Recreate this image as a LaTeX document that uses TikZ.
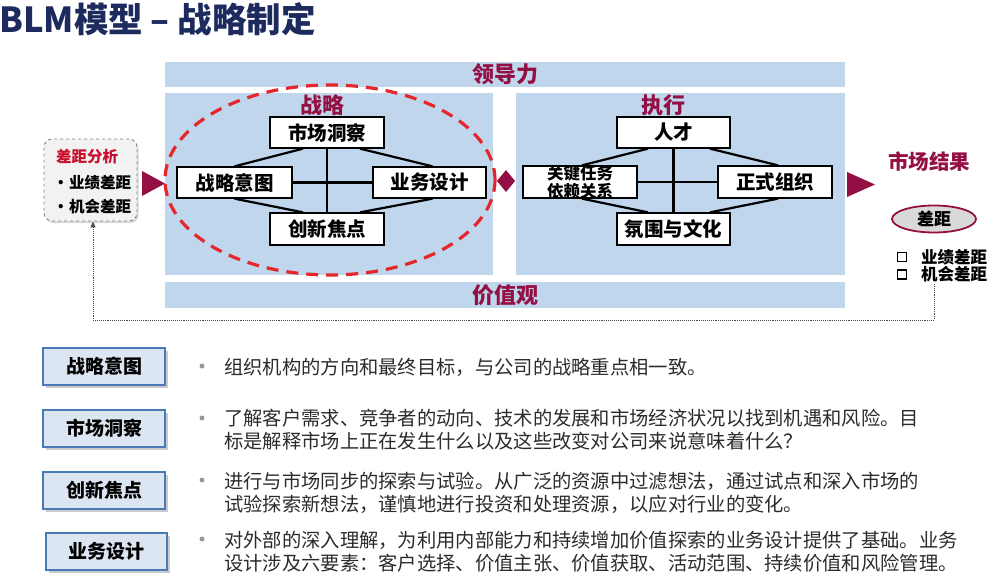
\documentclass[tikz,border=0pt]{standalone}
\usepackage{fontspec}
\setmainfont{Noto Sans CJK SC}
\usetikzlibrary{shapes.geometric,shadows,calc,arrows.meta}
\definecolor{band}{HTML}{BFD6EC}
\definecolor{maroon}{HTML}{941044}
\definecolor{navy}{HTML}{1C2A5E}
\definecolor{redd}{HTML}{E5262B}
\definecolor{lblfill}{HTML}{DCE6F2}
\definecolor{lbldraw}{HTML}{4A7AB5}
\definecolor{txt}{HTML}{2B2B2B}
\definecolor{gapred}{HTML}{C8102E}
\tikzset{
  bandbox/.style={fill=band, draw=none, inner sep=0},
  wbox/.style={draw=black, fill=white, line width=1.3pt, inner sep=0, font=\fontsize{19.5}{21}\selectfont\bfseries},
  link/.style={line width=2.2pt, black},
  hdr/.style={text=maroon, font=\fontsize{22}{24}\selectfont\bfseries, inner sep=0},
  lbl/.style={fill=lblfill, draw=lbldraw, line width=1.2pt, inner sep=0,
    minimum width=122pt, minimum height=37pt, font=\fontsize{19}{21}\selectfont\bfseries,
    drop shadow={shadow xshift=2.5pt, shadow yshift=-2.5pt, opacity=0.35, fill=black!60}},
  desc/.style={anchor=west, inner sep=0, align=left, text=txt, font=\fontsize{19.3}{23}\selectfont},
  bul/.style={circle, inner sep=0, minimum size=5pt, fill=black!40},
  gtxt/.style={anchor=west, inner sep=0, font=\fontsize{15.5}{17}\selectfont\bfseries},
  chk/.style={draw=black, line width=1.9pt, minimum size=9pt, inner sep=0},
  fb/.style={densely dotted, line width=0.9pt, black!70},
}
\begin{document}
\begin{tikzpicture}[x=1pt,y=-1pt]
\useasboundingbox (0,0) rectangle (996,573);
% title
\node[anchor=west, inner sep=0, text=navy, font=\fontsize{34.5}{36}\selectfont\bfseries] (title) at (-1,19) {BLM模型 – 战略制定};
% bands and panels
\node[bandbox, minimum width=680pt, minimum height=25pt] (lead) at (505,74.5) {};
\node[hdr] (leadt) at (505,74.5) {领导力};
\node[bandbox, minimum width=328pt, minimum height=182pt] (lp) at (329,184) {};
\node[bandbox, minimum width=329pt, minimum height=182pt] (rp) at (680.5,184) {};
\node[bandbox, minimum width=680pt, minimum height=26pt] (val) at (505,295) {};
\node[hdr] (valt) at (505,295) {价值观};
\node[hdr] (stt) at (322,105) {战略};
\node[hdr] (ext) at (663,105) {执行};
% strategy boxes
\node[wbox, minimum width=114pt, minimum height=31pt] (mi) at (327,132.5) {市场洞察};
\node[wbox, minimum width=115pt, minimum height=31pt] (si) at (234.5,182.5) {战略意图};
\node[wbox, minimum width=113pt, minimum height=31pt] (bd) at (429.5,182.5) {业务设计};
\node[wbox, minimum width=114pt, minimum height=32pt] (inn) at (327,229) {创新焦点};
\draw[link] (mi.south) -- (inn.north);
\draw[link] (si.east) -- (bd.west);
\draw[link] ($(mi.south)+(-24,0)$) -- (si.north);
\draw[link] ($(mi.south)+(33,0)$) -- ($(bd.north)+(3,0)$);
\draw[link] (si.south) -- ($(inn.north)+(-24,0)$);
\draw[link] ($(bd.south)+(3,0)$) -- ($(inn.north)+(33,0)$);
% execution boxes
\node[wbox, minimum width=113pt, minimum height=31pt] (tal) at (673.5,132.5) {人才};
\node[wbox, minimum width=114pt, minimum height=32pt] (kt) at (580,182) {};
\node[wbox, minimum width=114pt, minimum height=32pt] (fo) at (775,182) {正式组织};
\node[wbox, minimum width=113pt, minimum height=32pt] (cu) at (673.5,229) {氛围与文化};
\draw[link] (tal.south) -- (cu.north);
\draw[link] (kt.east) -- (fo.west);
\draw[link] ($(tal.south)+(-25.5,0)$) -- ($(kt.north)+(2,0)$);
\draw[link] ($(tal.south)+(36.5,0)$) -- ($(fo.north)+(3,0)$);
\draw[link] ($(kt.south)+(2,0)$) -- ($(cu.north)+(-25.5,0)$);
\draw[link] ($(fo.south)+(3,0)$) -- ($(cu.north)+(36.5,0)$);
\node[inner sep=0, align=center, font=\fontsize{16.5}{18.5}\selectfont\bfseries] (ktt) at (580,182.5) {关键任务\\依赖关系};
% red dashed ellipse
\node[ellipse, draw=redd, line width=3.2pt, dash pattern=on 12pt off 8pt, minimum width=330pt, minimum height=190pt, inner sep=0] (ring) at (330,180) {};
% arrows between
\fill[maroon] (142,171) -- (165,183.5) -- (142,196) -- cycle;
\fill[maroon] (497,181) -- (506,170) -- (515,181) -- (506,192) -- cycle;
\fill[maroon] (847,172) -- (875,184.5) -- (847,197) -- cycle;
% gap analysis box
\node[draw=black!50, dashed, line width=0.9pt, rounded corners=8pt, fill=black!5, minimum width=93pt, minimum height=82pt, inner sep=0,
  drop shadow={shadow xshift=1.5pt, shadow yshift=-2pt, opacity=0.3, fill=black!50}] (gap) at (90.5,180) {};
\node[gtxt, text=gapred] (g1) at (56,157) {差距分析};
\node[gtxt] (g2) at (53,183) {·\hspace{0.5pt}业绩差距};
\node[gtxt] (g3) at (53,207) {·\hspace{0.5pt}机会差距};
% market result
\node[hdr, font=\fontsize{20.5}{22}\selectfont\bfseries] (mr) at (929,162) {市场结果};
\node[ellipse, draw=maroon, line width=1.8pt, fill=black!15, minimum width=84pt, minimum height=27pt, inner sep=0, font=\fontsize{17}{18}\selectfont\bfseries] (gapE) at (934,219) {差距};
\node[chk] (c1) at (902,257) {};
\node[chk] (c2) at (902,274.5) {};
\node[anchor=west, inner sep=0, font=\fontsize{16.5}{18}\selectfont\bfseries] (r1) at (921,257) {业绩差距};
\node[anchor=west, inner sep=0, font=\fontsize{16.5}{18}\selectfont\bfseries] (r2) at (921,274.5) {机会差距};
% feedback dotted
\coordinate (fb1) at (934,284);
\coordinate (fbc) at (500,320);
\coordinate (gapS) at ($(gap.south)+(2.5,0)$);
\draw[fb, -{Triangle[length=6pt,width=5pt]}] (fb1) |- (fbc) -| (gapS);
% lower section
\node[lbl] (l1) at (104,366.5) {战略意图};
\node[lbl] (l2) at (104,428.5) {市场洞察};
\node[lbl] (l3) at (104,490.5) {创新焦点};
\node[lbl, minimum width=121pt] (l4) at (106.5,551.5) {业务设计};
\node[bul] (b1) at (202,366) {};
\node[bul] (b2) at (202,418) {};
\node[bul] (b3) at (202,480) {};
\node[bul] (b4) at (202,539) {};
\node[desc] (d1) at (224,367) {组织机构的方向和最终目标，与公司的战略重点相一致。};
\node[desc] (d2) at (224,430) {了解客户需求、竞争者的动向、技术的发展和市场经济状况以找到机遇和风险。目\\标是解释市场上正在发生什么以及这些改变对公司来说意味着什么？};
\node[desc] (d3) at (224,493) {进行与市场同步的探索与试验。从广泛的资源中过滤想法，通过试点和深入市场的\\试验探索新想法，谨慎地进行投资和处理资源，以应对行业的变化。};
\node[desc] (d4) at (224,552) {对外部的深入理解，为利用内部能力和持续增加价值探索的业务设计提供了基础。业务\\设计涉及六要素：客户选择、价值主张、价值获取、活动范围、持续价值和风险管理。};
\end{tikzpicture}
\end{document}
